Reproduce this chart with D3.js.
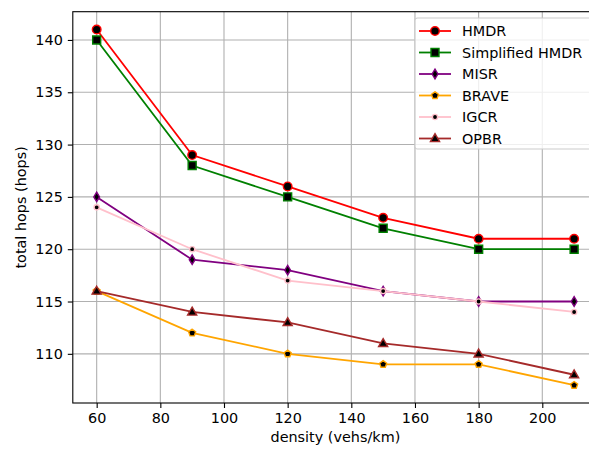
<!DOCTYPE html>
<html>
<head>
<meta charset="utf-8">
<script src="https://cdn.jsdelivr.net/npm/d3@7"></script>
<style>
  body { margin: 0; background: #fff; }
  svg { display: block; font-family: "DejaVu Sans", sans-serif; }
</style>
</head>
<body>
<div id="chart"></div>
<script>
const density = [60, 90, 120, 150, 180, 210];
const hmdr = [141, 129, 126, 123, 121, 121];
const simplifiedHmdr = [140, 128, 125, 122, 120, 120];
const misr = [125, 119, 118, 116, 115, 115];
const brave = [116, 112, 110, 109, 109, 107];
const igcr = [124, 120, 117, 116, 115, 114];
const opbr = [116, 114, 113, 111, 110, 108];
const xTicks = [60, 80, 100, 120, 140, 160, 180, 200];
const yTicks = [110, 115, 120, 125, 130, 135, 140];

const series = [
  { name: "HMDR", values: hmdr, color: "red", marker: "circle", size: 4.3 },
  { name: "Simplified HMDR", values: simplifiedHmdr, color: "green", marker: "square", size: 4 },
  { name: "MISR", values: misr, color: "purple", marker: "thin_diamond", size: 4.8 },
  { name: "BRAVE", values: brave, color: "orange", marker: "pentagon", size: 3.7 },
  { name: "IGCR", values: igcr, color: "pink", marker: "circle", size: 2.6 },
  { name: "OPBR", values: opbr, color: "brown", marker: "triangle", size: 4.8 }
];

var FS = "14.4px";
var W = 589, H = 450;
var margin = { top: 11.7, right: -9, bottom: 47, left: 72.8 };
var width = W - margin.left - margin.right,
  height = H - margin.top - margin.bottom;

var svg = d3.select("#chart").append("svg")
  .attr("width", W).attr("height", H);

var g = svg.append("g")
  .attr("transform", "translate(" + margin.left + "," + margin.top + ")");

var x = d3.scaleLinear().domain([52.5, 217.5]).range([0, width]);
var y = d3.scaleLinear().domain([105.3, 142.7]).range([height, 0]);

// grid
g.append("g").selectAll("line").data(xTicks).enter().append("line")
  .attr("x1", d => x(d)).attr("x2", d => x(d))
  .attr("y1", 0).attr("y2", height)
  .attr("stroke", "#b0b0b0").attr("stroke-width", 1.1);
g.append("g").selectAll("line").data(yTicks).enter().append("line")
  .attr("y1", d => y(d)).attr("y2", d => y(d))
  .attr("x1", 0).attr("x2", width)
  .attr("stroke", "#b0b0b0").attr("stroke-width", 1.1);

// axes
var xAxis = g.append("g")
  .attr("transform", "translate(0," + height + ")")
  .call(d3.axisBottom(x).tickValues(xTicks).tickSize(5).tickPadding(5));
var yAxis = g.append("g")
  .call(d3.axisLeft(y).tickValues(yTicks).tickSize(5).tickPadding(5));
[xAxis, yAxis].forEach(function (a) {
  a.select(".domain").remove();
  a.selectAll("line").attr("stroke", "#000").attr("stroke-width", 1.1);
  a.selectAll("text").attr("font-size", FS).attr("fill", "#000")
    .attr("font-family", "DejaVu Sans, sans-serif");
});

// spines
g.append("rect").attr("x", 0).attr("y", 0)
  .attr("width", width).attr("height", height)
  .attr("fill", "none").attr("stroke", "#000").attr("stroke-width", 1.1);

// labels
svg.append("text")
  .attr("x", margin.left + x(135)).attr("y", 442)
  .attr("text-anchor", "middle").attr("font-size", FS)
  .text("density (vehs/km)");
svg.append("text")
  .attr("transform", "translate(26," + (margin.top + height / 2) + ") rotate(-90)")
  .attr("text-anchor", "middle").attr("font-size", FS)
  .text("total hops (hops)");

function markerPath(type, r) {
  if (type === "circle") return d3.symbol(d3.symbolCircle, Math.PI * r * r)();
  if (type === "square") return d3.symbol(d3.symbolSquare, 4 * r * r)();
  if (type === "triangle") {
    return "M0," + (-r) + "L" + (r * 0.95) + "," + (r * 0.65) + "L" + (-r * 0.95) + "," + (r * 0.65) + "Z";
  }
  if (type === "thin_diamond") {
    return "M0," + (-r) + "L" + (r * 0.6) + ",0L0," + r + "L" + (-r * 0.6) + ",0Z";
  }
  if (type === "pentagon") {
    var pts = d3.range(5).map(function (i) {
      var a = -Math.PI / 2 + i * 2 * Math.PI / 5;
      return [r * Math.cos(a), r * Math.sin(a)];
    });
    return "M" + pts.join("L") + "Z";
  }
}

var line = d3.line()
  .x(function (d, i) { return x(density[i]); })
  .y(function (d) { return y(d); });

var plot = g.append("g");
series.forEach(function (s) {
  var sg = plot.append("g");
  sg.append("path").datum(s.values)
    .attr("d", line).attr("fill", "none")
    .attr("stroke", s.color).attr("stroke-width", 1.8);
  sg.selectAll("path.m").data(s.values).enter().append("path")
    .attr("class", "m")
    .attr("transform", function (d, i) { return "translate(" + x(density[i]) + "," + y(d) + ")"; })
    .attr("d", markerPath(s.marker, s.size))
    .attr("fill", "#000").attr("stroke", s.color).attr("stroke-width", 1.4);
});

// legend
var lg = svg.append("g").attr("transform", "translate(415,18)");
lg.append("rect").attr("x", 0).attr("y", 0)
  .attr("width", 190).attr("height", 131).attr("rx", 2.5)
  .attr("fill", "#fff").attr("fill-opacity", 0.8)
  .attr("stroke", "#cccccc").attr("stroke-width", 1.1);
series.forEach(function (s, i) {
  var ly = 13 + i * 21.5;
  var row = lg.append("g").attr("transform", "translate(0," + ly + ")");
  row.append("line").attr("x1", 4).attr("x2", 36).attr("y1", 0).attr("y2", 0)
    .attr("stroke", s.color).attr("stroke-width", 1.8);
  row.append("path").attr("transform", "translate(20,0)")
    .attr("d", markerPath(s.marker, s.size))
    .attr("fill", "#000").attr("stroke", s.color).attr("stroke-width", 1.4);
  row.append("text").attr("x", 47).attr("y", 0).attr("dy", "0.36em")
    .attr("font-size", FS).text(s.name);
});
</script>
</body>
</html>
